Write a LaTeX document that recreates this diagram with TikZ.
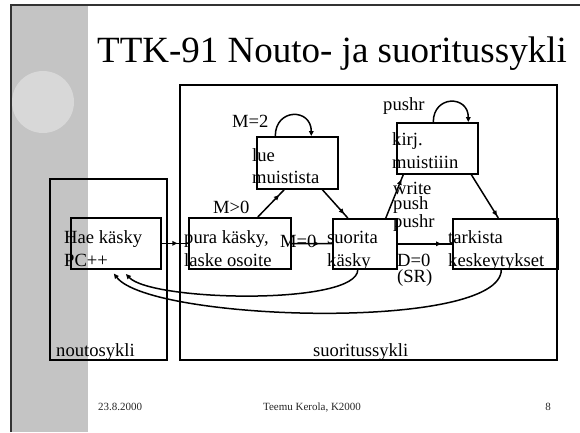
\documentclass[tikz,border=0pt]{standalone}
\usepackage{fontspec}
\setmainfont{Liberation Serif}
\usetikzlibrary{arrows.meta,decorations.markings}

\definecolor{stripgray}{RGB}{196,196,196}
\definecolor{discgray}{RGB}{216,216,216}

\begin{document}
\begin{tikzpicture}[
  x=1pt, y=-1pt,
  font=\fontsize{18.6}{23}\selectfont,
  >={Triangle[length=5pt,width=4.5pt]},
  stage/.style={draw, line width=1.6pt, anchor=north west, inner sep=0pt},
  txt/.style={anchor=base west, align=left, inner sep=0pt},
  lab/.style={anchor=base west, align=left, inner sep=0pt},
  arr/.style={line width=1.5pt,
              decoration={markings, mark=at position #1 with {\arrow{>}}},
              postaction={decorate}},
  back/.style={line width=1.5pt, ->},
]
\useasboundingbox (0,0) rectangle (580,432);

% ---------------------------------------------------------------- slide frame
\fill[stripgray] (11,5) rectangle (88,432);
\fill[discgray] (43,102) circle (31);
\draw[line width=1.2pt, black!80] (11,432) -- (11,5) -- (580,5);

\node[anchor=base, inner sep=0pt, font=\fontsize{37}{40}\selectfont] (title) at (332,62)
     {TTK-91 Nouto- ja suoritussykli};

% ---------------------------------------------------------------- cycles
\node[stage, minimum width=117pt, minimum height=181pt] (nouto) at (49,178) {};
\node[stage, minimum width=377pt, minimum height=275pt] (suor) at (179,84) {};
\node[lab] (noutolab) at (56,356) {noutosykli};
\node[lab] (suorlab) at (313,356) {suoritussykli};

% ---------------------------------------------------------------- stages
\node[stage, minimum width=90pt, minimum height=51pt] (hae) at (70,217) {};
\node[stage, minimum width=102pt, minimum height=51pt] (pura) at (188,217) {};
\node[stage, minimum width=64pt, minimum height=50pt] (suorita) at (332,218) {};
\node[stage, minimum width=105pt, minimum height=50pt] (tarkista) at (452,218) {};
\node[stage, minimum width=81pt, minimum height=52pt] (lue) at (256,136) {};
\node[stage, minimum width=81pt, minimum height=51pt] (kirj) at (396,122) {};

% (base = last line of each text)
\node[txt] at (64,266) {Hae käsky\\PC++};
\node[txt] at (184,266) {pura käsky,\\laske osoite};
\node[txt] at (327,266) {suorita\\käsky};
\node[txt] at (448,266) {tarkista\\keskeytykset};
\node[txt, font=\fontsize{18.6}{22}\selectfont] at (252,183) {lue\\muistista};
\node[txt] at (392,168) {kirj.\\muistiiin};

% ---------------------------------------------------------------- transitions
\draw[arr=0.6] (hae) -- (pura);
\draw[arr=0.68] (pura) -- (suorita);
\draw[arr=0.8] (suorita) -- (tarkista);
\draw[arr=0.8] ([xshift=18pt]pura.north) -- ([xshift=-13pt]lue.south);
\draw[arr=0.85] ([xshift=25pt]lue.south) -- ([xshift=-17pt]suorita.north);
\draw[arr=0.88] ([xshift=21pt]suorita.north) -- ([xshift=-34pt]kirj.south);
\draw[arr=0.95] ([xshift=34pt]kirj.south) -- ([xshift=-7pt]tarkista.north);

\draw[back] ([xshift=-22pt]lue.north) .. controls +(0,-28) and +(0,-28) .. ([xshift=14pt]lue.north);
\draw[back] ([xshift=-4pt]kirj.north) .. controls +(0,-27) and +(0,-27) .. ([xshift=31pt]kirj.north);

\draw[back, shorten >=6pt] ([xshift=-7pt]suorita.south) .. controls +(0,36) and +(30,32) .. ([xshift=6pt]hae.south);
\draw[back, shorten >=5pt] ([xshift=-4pt]tarkista.south) .. controls +(0,62) and +(40,52) .. ([xshift=-5pt]hae.south);

\node[lab] at (232,127) {M=2};
\node[lab] at (383,110) {pushr};
\node[lab] at (213,213) {M>0};
\node[lab] at (280,247) {M=0};
\node[lab, font=\fontsize{18.6}{15}\selectfont] at (393,227) {write\\push\\pushr};
\node[lab, font=\fontsize{18.6}{16}\selectfont] at (397,282) {D=0\\(SR)};

% ---------------------------------------------------------------- footer
\begin{scope}[font=\fontsize{11}{13}\selectfont, text=black!85]
  \node[lab] (date) at (98,410) {23.8.2000};
  \node[anchor=base, inner sep=0pt] (author) at (312,410) {Teemu Kerola, K2000};
  \node[anchor=base, inner sep=0pt] (page) at (548,410) {8};
\end{scope}
\end{tikzpicture}
\end{document}
